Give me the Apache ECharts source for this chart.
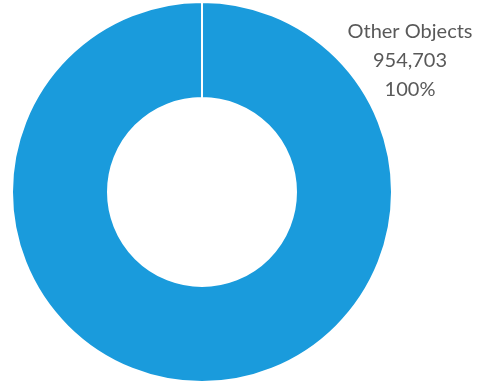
<!DOCTYPE html>
<html>
<head>
<meta charset="utf-8">
<title>Other Objects</title>
<script src="https://cdn.jsdelivr.net/npm/echarts@6/dist/echarts.min.js"></script>
<style>
  html, body { margin: 0; padding: 0; background: #ffffff; }
  #chart { width: 492px; height: 387px; }
</style>
</head>
<body>
<div id="chart"></div>
<script>
// Object categories and their counts
const categories = ['Other Objects'];
const counts = [954703];

const chart = echarts.init(document.getElementById('chart'), null, { renderer: 'canvas' });

const pieData = categories.map((name, i) => ({ name: name, value: counts[i] }));

chart.setOption({
  animation: false,
  backgroundColor: '#ffffff',
  color: ['#1a9bdc'],
  series: [{
    type: 'pie',
    center: [202, 192],
    radius: [94, 190],
    startAngle: 90,
    clockwise: true,
    padAngle: 0.01,
    itemStyle: {
      borderColor: '#ffffff',
      borderWidth: 2
    },
    emphasis: { disabled: true },
    label: {
      show: true,
      position: 'outside',
      formatter: function (p) {
        return p.name + '\n' + p.value.toLocaleString('en-US') + '\n' + Math.round(p.percent) + '%';
      },
      fontFamily: 'Lato, "Open Sans", sans-serif',
      fontSize: 20,
      lineHeight: 29,
      color: '#595959',
      align: 'center'
    },
    labelLine: { show: false },
    labelLayout: {
      x: 410,
      y: 61,
      align: 'center',
      verticalAlign: 'middle'
    },
    data: pieData
  }]
});
</script>
</body>
</html>
